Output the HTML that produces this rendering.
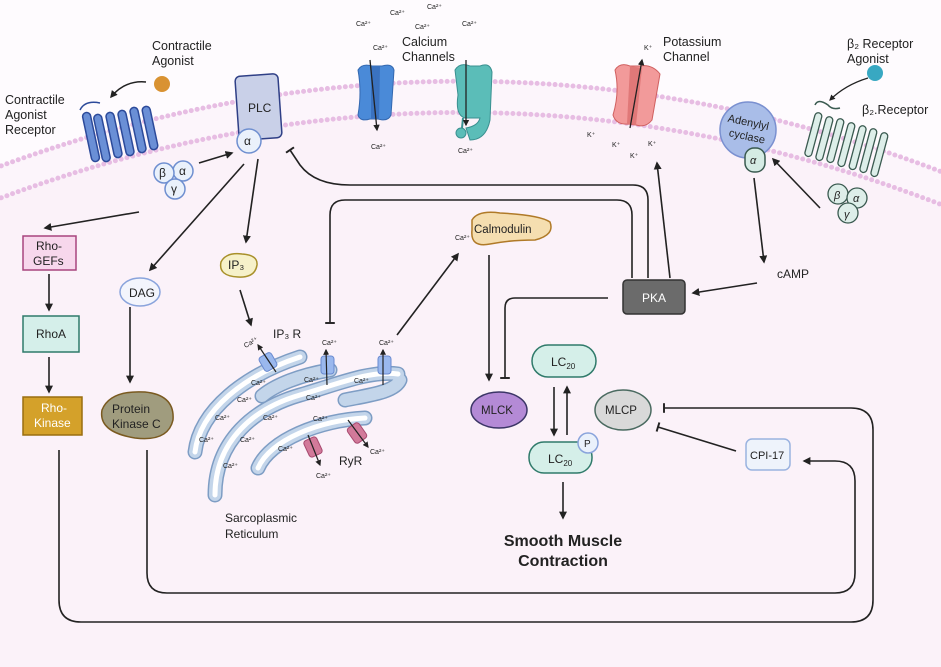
<!DOCTYPE html>
<html><head><meta charset="utf-8"><style>
html,body{margin:0;padding:0;background:#fefbfe}
svg{display:block}
text{font-family:"Liberation Sans",sans-serif;fill:#222}
.s{font-size:7px}
.l{font-size:12.5px}
</style></head><body>
<svg width="941" height="667" viewBox="0 0 941 667" xmlns="http://www.w3.org/2000/svg">
<defs>
<marker id="a" viewBox="0 0 10 10" refX="8" refY="5" markerWidth="5" markerHeight="5" orient="auto-start-reverse"><path d="M0,0 L10,5 L0,10 Z" fill="#222"/></marker>
<marker id="t" viewBox="0 0 10 10" refX="5" refY="5" markerWidth="6" markerHeight="6" orient="auto"><path d="M5,0 L5,10" stroke="#222" stroke-width="2"/></marker>
</defs>
<rect width="941" height="667" fill="#fefbfe"/>
<!-- membrane -->
<path d="M-10,170 Q470,-10 950,175 L950,208 Q470,20 -10,202 Z" fill="#fcf5fb"/>
<path d="M-10,202 Q470,20 950,208 L950,667 L-10,667 Z" fill="#fbf2f9"/>
<path d="M-10,170 Q470,-10 950,175" fill="none" stroke="#e7bde3" stroke-width="5" stroke-linecap="round" stroke-dasharray="0 6"/>
<path d="M-10,202 Q470,20 950,208" fill="none" stroke="#e7bde3" stroke-width="5" stroke-linecap="round" stroke-dasharray="0 6"/>

<!-- labels top -->
<text class="l" x="152" y="50">Contractile</text><text class="l" x="152" y="65">Agonist</text>
<text class="l" x="5" y="104">Contractile</text><text class="l" x="5" y="119">Agonist</text><text class="l" x="5" y="134">Receptor</text>
<text class="l" x="402" y="46">Calcium</text><text class="l" x="402" y="61">Channels</text>
<text class="l" x="663" y="46">Potassium</text><text class="l" x="663" y="61">Channel</text>
<text class="l" x="847" y="48">β₂ Receptor</text><text class="l" x="847" y="63">Agonist</text>
<text class="l" x="862" y="114">β₂.Receptor</text>
<g class="s"><text x="356" y="26">Ca²⁺</text><text x="390" y="15">Ca²⁺</text><text x="427" y="9">Ca²⁺</text><text x="415" y="29">Ca²⁺</text><text x="462" y="26">Ca²⁺</text><text x="373" y="50">Ca²⁺</text><text x="371" y="149">Ca²⁺</text><text x="458" y="153">Ca²⁺</text>
<text x="644" y="50">K⁺</text><text x="587" y="137">K⁺</text><text x="612" y="147">K⁺</text><text x="630" y="158">K⁺</text><text x="648" y="146">K⁺</text></g>

<!-- agonist -->
<circle cx="162" cy="84" r="8" fill="#d99232"/>
<path d="M146,82 Q125,80 111,97" fill="none" stroke="#222" stroke-width="1.5" marker-end="url(#a)"/>
<!-- receptor -->
<g fill="#6a8fd6" stroke="#2c4a9a" stroke-width="1.5">
<path d="M80,110 Q85,100 100,103" fill="none"/>
<rect x="87" y="112" width="8" height="50" rx="4" transform="rotate(-12 91 137)"/>
<rect x="98" y="114" width="8" height="48" rx="4" transform="rotate(-12 102 138)"/>
<rect x="110" y="112" width="8" height="46" rx="4" transform="rotate(-12 114 135)"/>
<rect x="122" y="110" width="8" height="46" rx="4" transform="rotate(-12 126 133)"/>
<rect x="134" y="107" width="8" height="46" rx="4" transform="rotate(-12 138 130)"/>
<rect x="146" y="106" width="8" height="44" rx="4" transform="rotate(-12 150 128)"/>
</g>
<g fill="#eaf1fb" stroke="#6f8fd0" stroke-width="1.5">
<circle cx="183" cy="171" r="10"/><circle cx="164" cy="173" r="10"/><circle cx="175" cy="189" r="10"/></g>
<text x="159" y="177" font-size="12">β</text><text x="179" y="175" font-size="12">α</text><text x="171" y="193" font-size="12">γ</text>
<!-- PLC -->
<rect x="237" y="75" width="43" height="64" rx="5" fill="#c9d0e8" stroke="#2f3f86" stroke-width="1.5" transform="rotate(-4 258 107)"/>
<text x="248" y="112" font-size="12">PLC</text>
<circle cx="249" cy="141" r="12" fill="#eaf1fb" stroke="#6f8fd0" stroke-width="1.5"/><text x="244" y="145" font-size="12">α</text>
<!-- Ca channels -->
<path d="M358,70 Q362,63 372,66 L382,66 Q392,63 394,70 L391,115 Q388,122 378,119 L370,119 Q360,122 358,115 Q362,92 358,70 Z" fill="#4a8ad8" stroke="#3468b0"/>
<path d="M371,66 L380,66 L379,119 L371,119 Z" fill="#3a72c0"/>
<line x1="370" y1="60" x2="377" y2="130" stroke="#222" stroke-width="1.3" marker-end="url(#a)"/>
<path d="M455,70 Q460,62 470,66 L480,66 Q490,62 492,72 L490,120 Q486,140 470,140 L466,128 Q478,126 480,118 L465,118 Q455,115 458,95 Z" fill="#5bbdb8" stroke="#3a9090"/>
<path d="M463,118 L462,128" stroke="#3a9090" stroke-width="2"/><circle cx="461" cy="133" r="5" fill="#5bbdb8" stroke="#3a9090"/>
<line x1="466" y1="60" x2="466" y2="125" stroke="#222" stroke-width="1.3" marker-end="url(#a)"/>
<!-- K channel -->
<path d="M615,70 Q620,62 630,66 L640,66 Q652,64 660,74 L652,120 Q646,128 636,125 L628,124 Q616,125 613,115 Q620,92 615,70 Z" fill="#f29a9a" stroke="#d06060"/>
<path d="M630,66 L642,68 L636,125 L627,124 Z" fill="#e07878"/>
<line x1="630" y1="128" x2="642" y2="60" stroke="#222" stroke-width="1.3" marker-end="url(#a)"/>
<!-- adenylyl cyclase -->
<circle cx="748" cy="130" r="28" fill="#a9bde8" stroke="#7a90d0" stroke-width="1.5"/>
<text x="726" y="126" font-size="11" transform="rotate(12 748 130)">Adenylyl</text><text x="730" y="140" font-size="11" transform="rotate(12 748 130)">cyclase</text>
<rect x="745" y="148" width="20" height="24" rx="9" fill="#d5ebe4" stroke="#3a5a50" stroke-width="1.5"/><text x="750" y="164" font-size="11" font-style="italic">α</text>
<!-- b2 receptor -->
<circle cx="875" cy="73" r="8" fill="#38a8c2"/>
<path d="M868,78 Q845,85 830,100" fill="none" stroke="#222" stroke-width="1.2" marker-end="url(#a)"/>
<path d="M815,105 Q818,98 828,105 Q832,110 840,108" fill="none" stroke="#3a5a50" stroke-width="1.5"/>
<g fill="#ddeee9" stroke="#3a5a50" stroke-width="1.3">
<rect x="810" y="112" width="7" height="45" rx="3.5" transform="rotate(15 813 134)"/>
<rect x="821" y="116" width="7" height="45" rx="3.5" transform="rotate(15 824 138)"/>
<rect x="832" y="118" width="7" height="45" rx="3.5" transform="rotate(15 835 140)"/>
<rect x="843" y="122" width="7" height="45" rx="3.5" transform="rotate(15 846 144)"/>
<rect x="854" y="125" width="7" height="45" rx="3.5" transform="rotate(15 857 148)"/>
<rect x="865" y="128" width="7" height="45" rx="3.5" transform="rotate(15 868 150)"/>
<rect x="876" y="132" width="7" height="45" rx="3.5" transform="rotate(15 879 154)"/>
<circle cx="838" cy="194" r="10"/><circle cx="857" cy="198" r="10"/><circle cx="848" cy="213" r="10"/></g>
<text x="834" y="199" font-size="11" font-style="italic">β</text><text x="853" y="202" font-size="11" font-style="italic">α</text><text x="844" y="218" font-size="11" font-style="italic">γ</text>

<!-- arrows top region -->
<g stroke="#222" stroke-width="1.6" fill="none">
<line x1="199" y1="163" x2="232" y2="153" marker-end="url(#a)"/>
<line x1="139" y1="212" x2="45" y2="228" marker-end="url(#a)"/>
<line x1="244" y1="164" x2="150" y2="270" marker-end="url(#a)"/>
<line x1="258" y1="159" x2="246" y2="242" marker-end="url(#a)"/>
<line x1="240" y1="290" x2="251" y2="325" marker-end="url(#a)"/>
<line x1="49" y1="274" x2="49" y2="310" marker-end="url(#a)"/>
<line x1="49" y1="357" x2="49" y2="392" marker-end="url(#a)"/>
<line x1="130" y1="307" x2="130" y2="382" marker-end="url(#a)"/>
<path d="M648,278 L648,200 Q648,185 633,185 L350,185 Q315,185 300,165 L290,150" marker-end="url(#t)"/>
<path d="M632,278 L632,215 Q632,200 617,200 L345,200 Q330,200 330,215 L330,323" marker-end="url(#t)"/>
<line x1="670" y1="278" x2="657" y2="163" marker-end="url(#a)"/>
<line x1="397" y1="335" x2="458" y2="254" marker-end="url(#a)"/>
<line x1="489" y1="255" x2="489" y2="380" marker-end="url(#a)"/>
<path d="M608,298 L515,298 Q505,298 505,308 L505,378" marker-end="url(#t)"/>
<line x1="754" y1="178" x2="764" y2="262" marker-end="url(#a)"/>
<line x1="820" y1="208" x2="773" y2="159" marker-end="url(#a)"/>
<line x1="757" y1="283" x2="693" y2="293" marker-end="url(#a)"/>
<line x1="554" y1="387" x2="554" y2="435" marker-end="url(#a)"/>
<line x1="567" y1="435" x2="567" y2="387" marker-end="url(#a)"/>
<line x1="563" y1="482" x2="563" y2="518" marker-end="url(#a)"/>
<line x1="736" y1="451" x2="658" y2="427" marker-end="url(#t)"/>
<!-- loops -->
<path d="M59,450 L59,600 Q59,622 81,622 L851,622 Q873,622 873,600 L873,430 Q873,408 851,408 L664,408" marker-end="url(#t)"/>
<path d="M147,450 L147,573 Q147,593 167,593 L835,593 Q855,593 855,573 L855,481 Q855,461 835,461 L804,461" marker-end="url(#a)"/>
</g>

<!-- left boxes -->
<rect x="23" y="236" width="53" height="34" fill="#f7d7ec" stroke="#a8447e" stroke-width="1.5"/>
<text x="36" y="250" font-size="12">Rho-</text><text x="33" y="265" font-size="12">GEFs</text>
<rect x="23" y="316" width="56" height="36" fill="#d5efea" stroke="#2e7a6a" stroke-width="1.5"/>
<text x="36" y="338" font-size="12">RhoA</text>
<rect x="23" y="397" width="59" height="38" fill="#d4a12a" stroke="#9a6e10" stroke-width="1.5"/>
<text x="41" y="412" font-size="12" style="fill:#fff">Rho-</text><text x="34" y="427" font-size="12" style="fill:#fff">Kinase</text>
<ellipse cx="140" cy="292" rx="20" ry="14" fill="#f3f5fc" stroke="#8aa4dc" stroke-width="1.5"/><text x="129" y="297" font-size="12">DAG</text>
<path d="M102,410 Q110,390 145,392 Q175,395 173,420 Q168,442 135,438 Q98,432 102,410 Z" fill="#a09c7e" stroke="#7a5a20" stroke-width="1.5"/>
<text x="112" y="413" font-size="12">Protein</text><text x="112" y="428" font-size="12">Kinase C</text>
<path d="M221,262 Q226,252 242,254 Q258,255 257,265 Q255,278 238,277 Q218,276 221,262 Z" fill="#f6f1c9" stroke="#a8902a" stroke-width="1.5"/>
<text x="228" y="269" font-size="12">IP₃</text>

<!-- SR -->
<g fill="none" stroke-linecap="round">
<g stroke="#7e9dc4" stroke-width="15">
<path d="M195,452 C200,410 245,375 300,357"/>
<path d="M215,495 C215,440 255,408 300,395 C335,385 370,370 398,374"/>
<path d="M262,396 C275,385 300,375 330,370"/>
<path d="M258,468 C270,440 320,420 365,418"/>
<path d="M345,400 C370,395 395,392 400,380"/>
</g>
<g stroke="#c3d5ea" stroke-width="12">
<path d="M195,452 C200,410 245,375 300,357"/>
<path d="M215,495 C215,440 255,408 300,395 C335,385 370,370 398,374"/>
<path d="M262,396 C275,385 300,375 330,370"/>
<path d="M258,468 C270,440 320,420 365,418"/>
<path d="M345,400 C370,395 395,392 400,380"/>
</g>
<g stroke="#fff" stroke-width="5">
<path d="M195,452 C200,410 245,375 300,357"/>
<path d="M215,495 C215,440 255,408 300,395 C335,385 370,370 398,374"/>
<path d="M258,468 C270,440 320,420 365,418"/>
</g>
</g>
<g fill="#9ab8ee" stroke="#6a8ad0"><rect x="261" y="354" width="14" height="16" rx="3" transform="rotate(-30 268 362)"/><rect x="321" y="356" width="13" height="18" rx="3"/><rect x="378" y="356" width="13" height="18" rx="3"/></g>
<g fill="#d27a9a" stroke="#a84a70"><rect x="306" y="438" width="14" height="18" rx="3" transform="rotate(-25 313 447)"/><rect x="350" y="424" width="14" height="18" rx="3" transform="rotate(-35 357 433)"/></g>
<g stroke="#222" stroke-width="1.2" fill="none">
<line x1="276" y1="372" x2="258" y2="345" marker-end="url(#a)"/>
<line x1="327" y1="385" x2="326" y2="350" marker-end="url(#a)"/>
<line x1="383" y1="385" x2="383" y2="350" marker-end="url(#a)"/>
<line x1="308" y1="435" x2="320" y2="465" marker-end="url(#a)"/>
<line x1="348" y1="420" x2="368" y2="447" marker-end="url(#a)"/>
</g>
<g class="s"><text x="243" y="345" transform="rotate(-30 250 342)">Ca²⁺</text><text x="322" y="345">Ca²⁺</text><text x="379" y="345">Ca²⁺</text>
<text x="251" y="385">Ca²⁺</text><text x="237" y="402">Ca²⁺</text><text x="215" y="420">Ca²⁺</text><text x="199" y="442">Ca²⁺</text>
<text x="263" y="420">Ca²⁺</text><text x="240" y="442">Ca²⁺</text><text x="223" y="468">Ca²⁺</text>
<text x="304" y="382">Ca²⁺</text><text x="354" y="383">Ca²⁺</text><text x="306" y="400">Ca²⁺</text><text x="313" y="421">Ca²⁺</text><text x="278" y="451">Ca²⁺</text>
<text x="316" y="478">Ca²⁺</text><text x="370" y="454">Ca²⁺</text><text x="455" y="240">Ca²⁺</text></g>
<text x="273" y="338" font-size="12">IP₃ R</text>
<text x="339" y="465" font-size="12">RyR</text>
<text x="225" y="522" font-size="12">Sarcoplasmic</text><text x="225" y="538" font-size="12">Reticulum</text>

<!-- right middle -->
<path d="M472,220 Q478,210 500,213 Q540,215 550,222 Q555,235 535,240 Q510,240 490,244 Q470,248 472,230 Z" fill="#f5deb0" stroke="#b07a28" stroke-width="1.5"/>
<text x="474" y="233" font-size="11.5">Calmodulin</text>
<text x="777" y="278" font-size="12">cAMP</text>
<rect x="623" y="280" width="62" height="34" rx="4" fill="#6b6b6b" stroke="#333" stroke-width="1.5"/>
<text x="642" y="302" font-size="12" style="fill:#fff">PKA</text>
<ellipse cx="499" cy="410" rx="28" ry="18" fill="#b48ad6" stroke="#3b3566" stroke-width="1.5"/><text x="481" y="414" font-size="11.5">MLCK</text>
<rect x="532" y="345" width="64" height="32" rx="16" fill="#d5efe9" stroke="#2f7a6a" stroke-width="1.5"/><text x="551" y="366" font-size="12">LC<tspan font-size="8" dy="3">20</tspan></text>
<rect x="529" y="442" width="63" height="31" rx="15" fill="#d5efe9" stroke="#2f7a6a" stroke-width="1.5"/><text x="548" y="463" font-size="12">LC<tspan font-size="8" dy="3">20</tspan></text>
<circle cx="588" cy="443" r="10" fill="#eaf1fb" stroke="#8aa4dc" stroke-width="1.5"/><text x="584" y="447" font-size="10">P</text>
<ellipse cx="623" cy="410" rx="28" ry="20" fill="#d9d9d9" stroke="#4a6a60" stroke-width="1.5"/><text x="605" y="414" font-size="11.5">MLCP</text>
<rect x="746" y="439" width="44" height="31" rx="6" fill="#eef3fb" stroke="#9ab3e0" stroke-width="1.5"/><text x="750" y="459" font-size="11">CPI-17</text>
<text x="563" y="546" font-size="16" font-weight="bold" text-anchor="middle">Smooth Muscle</text>
<text x="563" y="566" font-size="16" font-weight="bold" text-anchor="middle">Contraction</text>
</svg>
</body></html>
